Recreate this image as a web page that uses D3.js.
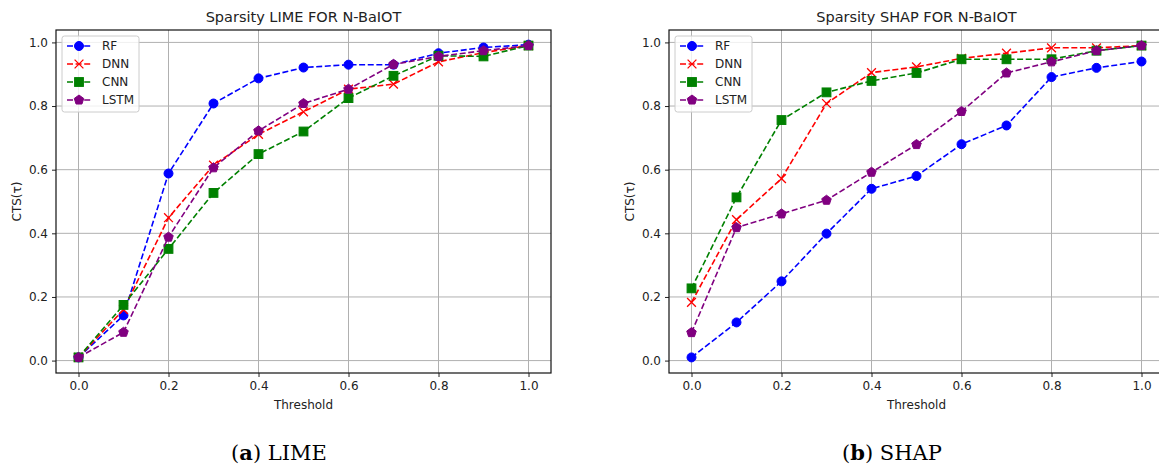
<!DOCTYPE html>
<html>
<head>
<meta charset="utf-8">
<script src="https://cdn.jsdelivr.net/npm/d3@7"></script>
<style>
  body { margin: 0; background: #fff; }
  svg { display: block; }
</style>
</head>
<body>
<div id="chart"></div>
<script>
const thresholds = [0.0, 0.1, 0.2, 0.3, 0.4, 0.5, 0.6, 0.7, 0.8, 0.9, 1.0];
const models = ["RF", "DNN", "CNN", "LSTM"];

// LIME
const limeRF   = [0.01, 0.142, 0.588, 0.808, 0.887, 0.921, 0.930, 0.930, 0.966, 0.984, 0.993];
const limeDNN  = [0.01, 0.160, 0.449, 0.614, 0.711, 0.782, 0.853, 0.869, 0.939, 0.968, 0.990];
const limeCNN  = [0.01, 0.175, 0.351, 0.527, 0.649, 0.720, 0.825, 0.895, 0.958, 0.956, 0.990];
const limeLSTM = [0.01, 0.089, 0.388, 0.606, 0.722, 0.808, 0.853, 0.931, 0.956, 0.974, 0.990];

// SHAP
const shapRF   = [0.01, 0.120, 0.249, 0.399, 0.540, 0.580, 0.680, 0.739, 0.891, 0.920, 0.940];
const shapDNN  = [0.183, 0.443, 0.572, 0.808, 0.905, 0.923, 0.950, 0.966, 0.983, 0.983, 0.990];
const shapCNN  = [0.227, 0.513, 0.756, 0.843, 0.879, 0.904, 0.947, 0.947, 0.947, 0.974, 0.990];
const shapLSTM = [0.088, 0.418, 0.461, 0.504, 0.592, 0.679, 0.783, 0.904, 0.939, 0.974, 0.990];

const xTicks = [0.0, 0.2, 0.4, 0.6, 0.8, 1.0];
const yTicks = [0.0, 0.2, 0.4, 0.6, 0.8, 1.0];

const colors = { RF: "#0000ff", DNN: "#ff0000", CNN: "#008000", LSTM: "#800080" };
const shapes = { RF: "circle", DNN: "x", CNN: "square", LSTM: "pentagon" };

const W = 1159, H = 468;
const svg = d3.select("#chart").append("svg").attr("width", W).attr("height", H);

function marker(g, type, color, cx, cy) {
    if (type === "circle") {
        g.append("circle").attr("cx", cx).attr("cy", cy).attr("r", 4.5)
            .attr("fill", color).attr("stroke", color).attr("stroke-width", 1);
    } else if (type === "square") {
        g.append("rect").attr("x", cx - 4.4).attr("y", cy - 4.4).attr("width", 8.8).attr("height", 8.8)
            .attr("fill", color).attr("stroke", color).attr("stroke-width", 1);
    } else if (type === "x") {
        const s = 4.4;
        g.append("path").attr("d", `M${cx - s},${cy - s}L${cx + s},${cy + s}M${cx - s},${cy + s}L${cx + s},${cy - s}`)
            .attr("stroke", color).attr("stroke-width", 1.3).attr("fill", "none");
    } else if (type === "pentagon") {
        const r = 5;
        const pts = d3.range(5).map(i => {
            const a = -Math.PI / 2 + i * 2 * Math.PI / 5;
            return [cx + r * Math.cos(a), cy + r * Math.sin(a)];
        });
        g.append("polygon").attr("points", pts.map(p => p.join(",")).join(" "))
            .attr("fill", color).attr("stroke", color).attr("stroke-width", 1);
    }
}

function drawPanel(left, title, seriesList) {
    const top = 30, bottom = 373, width = 495;
    const g = svg.append("g");

    const x = d3.scaleLinear().domain([-0.05, 1.05]).range([left, left + width]);
    const y = d3.scaleLinear().domain([-0.039, 1.039]).range([bottom, top]);

    // grid
    g.append("g").selectAll("line").data(xTicks).enter().append("line")
        .attr("x1", d => x(d)).attr("x2", d => x(d)).attr("y1", top).attr("y2", bottom)
        .attr("stroke", "#b0b0b0").attr("stroke-width", 1);
    g.append("g").selectAll("line").data(yTicks).enter().append("line")
        .attr("x1", left).attr("x2", left + width).attr("y1", d => y(d)).attr("y2", d => y(d))
        .attr("stroke", "#b0b0b0").attr("stroke-width", 1);

    // axes
    const xAxis = g.append("g").attr("transform", `translate(0,${bottom})`)
        .call(d3.axisBottom(x).tickValues(xTicks).tickFormat(d3.format(".1f")).tickSize(4).tickPadding(4));
    const yAxis = g.append("g").attr("transform", `translate(${left},0)`)
        .call(d3.axisLeft(y).tickValues(yTicks).tickFormat(d3.format(".1f")).tickSize(4).tickPadding(4));
    [xAxis, yAxis].forEach(a => {
        a.select(".domain").remove();
        a.selectAll("text").attr("font-family", "DejaVu Sans").attr("font-size", 12).attr("fill", "#222");
        a.selectAll("line").attr("stroke", "#222");
    });

    // series
    const line = d3.line().x((d, i) => x(thresholds[i])).y(d => y(d));
    seriesList.forEach((vals, k) => {
        const m = models[k];
        g.append("path").datum(vals).attr("d", line)
            .attr("fill", "none").attr("stroke", colors[m]).attr("stroke-width", 1.6)
            .attr("stroke-dasharray", "6,2.6");
        const mg = g.append("g");
        vals.forEach((v, i) => marker(mg, shapes[m], colors[m], x(thresholds[i]), y(v)));
    });

    // frame
    g.append("rect").attr("x", left).attr("y", top).attr("width", width).attr("height", bottom - top)
        .attr("fill", "none").attr("stroke", "#111").attr("stroke-width", 1.2);

    // legend
    const lx = left + 6, ly = 36;
    const lg = g.append("g");
    lg.append("rect").attr("x", lx).attr("y", ly).attr("width", 77).attr("height", 76)
        .attr("rx", 2.5).attr("fill", "#fff").attr("fill-opacity", 0.8)
        .attr("stroke", "#cccccc").attr("stroke-width", 1);
    models.forEach((m, i) => {
        const cy = ly + 10 + i * 18;
        lg.append("line").attr("x1", lx + 5).attr("x2", lx + 29).attr("y1", cy).attr("y2", cy)
            .attr("stroke", colors[m]).attr("stroke-width", 1.6).attr("stroke-dasharray", "6,2.6");
        marker(lg, shapes[m], colors[m], lx + 17, cy);
        lg.append("text").attr("x", lx + 40).attr("y", cy).attr("dy", "0.36em")
            .attr("font-family", "DejaVu Sans").attr("font-size", 12).attr("fill", "#222").text(m);
    });

    // title and labels
    g.append("text").attr("x", left + width / 2).attr("y", 22).attr("text-anchor", "middle")
        .attr("font-family", "DejaVu Sans").attr("font-size", 14.5).attr("fill", "#222").text(title);
    g.append("text").attr("x", left + width / 2).attr("y", 409).attr("text-anchor", "middle")
        .attr("font-family", "DejaVu Sans").attr("font-size", 12).attr("fill", "#222").text("Threshold");
    g.append("text").attr("transform", `translate(${left - 35},${(top + bottom) / 2}) rotate(-90)`)
        .attr("text-anchor", "middle")
        .attr("font-family", "DejaVu Sans").attr("font-size", 12).attr("fill", "#222").text("CTS(τ)");
}

drawPanel(56, "Sparsity LIME FOR N-BaIOT", [limeRF, limeDNN, limeCNN, limeLSTM]);
drawPanel(669, "Sparsity SHAP FOR N-BaIOT", [shapRF, shapDNN, shapCNN, shapLSTM]);

// captions
const captions = [{ x: 279, b: "a", t: "LIME" }, { x: 892, b: "b", t: "SHAP" }];
captions.forEach(c => {
    const t = svg.append("text").attr("x", c.x).attr("y", 460).attr("text-anchor", "middle")
        .attr("font-family", "DejaVu Serif").attr("font-size", 21).attr("fill", "#000");
    t.append("tspan").text("(");
    t.append("tspan").attr("font-weight", "bold").text(c.b);
    t.append("tspan").text(") " + c.t);
});
</script>
</body>
</html>
